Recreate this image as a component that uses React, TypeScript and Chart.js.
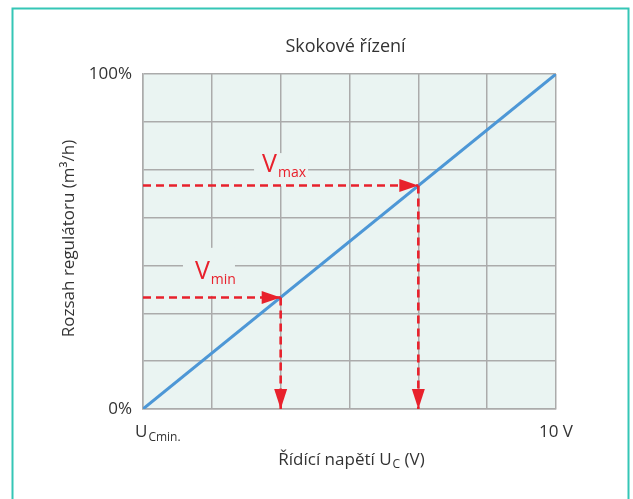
import React, { useEffect, useRef } from "react";
import { Chart, registerables } from "chart.js";

Chart.register(...registerables);

// ---- data ----
const chartTitle = "Skokové řízení";
const yAxisTitle = "Rozsah regulátoru (m³/h)";
const xAxisTitleMain = "Řídící napětí U";
const xAxisTitleSub = "C";
const xAxisTitleTail = " (V)";
const yTickLabels = ["0%", "100%"];
const yTickValues = [0, 7];
const xTickMain = ["U", "10 V"];
const xTickSub = ["Cmin.", ""];
const xTickValues = [0, 6];
// characteristic line (grid units: 6 columns x 7 rows)
const lineX = [0, 6];
const lineY = [0, 7];
// operating points
const markerNames = ["min", "max"];
const markerX = [2, 4];
const markerY = [2.33, 4.67];

// ---- styles / placement ----
const FONT = "'Open Sans', 'Noto Sans', sans-serif";
const TEXT = "#333333";
const RED = "#e8212c";
const BLUE = "#4d97d6";
const GRID = "#ababab";
const PLOT_BG = "#eaf4f2";
const FRAME = "#35c6b6";
const labelAnchors = [
  { x: 0.755, y: 2.72, gap: [-12, -31, 52, 48] },
  { x: 1.73, y: 4.95, gap: [-8, -19, 54, 33] },
];

function drawSub(
  ctx: CanvasRenderingContext2D,
  x: number,
  y: number,
  main: string,
  sub: string,
  tail: string,
  mainFont: string,
  subFont: string,
  subDy: number,
  align: "left" | "center"
) {
  ctx.font = mainFont;
  const wm = ctx.measureText(main).width;
  const wt = tail ? ctx.measureText(tail).width : 0;
  ctx.font = subFont;
  const ws = sub ? ctx.measureText(sub).width + 1 : 0;
  const total = wm + ws + wt;
  let sx = align === "center" ? x - total / 2 : x;
  ctx.textAlign = "left";
  ctx.textBaseline = "alphabetic";
  ctx.font = mainFont;
  ctx.fillText(main, sx, y);
  sx += wm;
  if (sub) {
    ctx.font = subFont;
    ctx.fillText(sub, sx + 1, y + subDy);
    sx += ws;
  }
  if (tail) {
    ctx.font = mainFont;
    ctx.fillText(tail, sx, y);
  }
}

const overlay = {
  id: "overlay",
  beforeDraw(chart: any) {
    const { ctx, chartArea } = chart;
    const { left, top, right, bottom } = chartArea;
    ctx.save();
    ctx.fillStyle = "#ffffff";
    ctx.fillRect(0, 0, chart.width, chart.height);
    ctx.strokeStyle = FRAME;
    ctx.lineWidth = 2;
    ctx.strokeRect(12.5, 8.5, 616, 600);
    ctx.fillStyle = PLOT_BG;
    ctx.fillRect(left, top, right - left, bottom - top);
    ctx.restore();
  },
  beforeDatasetsDraw(chart: any) {
    const { ctx, scales } = chart;
    ctx.save();
    ctx.fillStyle = PLOT_BG;
    labelAnchors.forEach((a) => {
      const px = scales.x.getPixelForValue(a.x);
      const py = scales.y.getPixelForValue(a.y);
      ctx.fillRect(px + a.gap[0], py + a.gap[1], a.gap[2], a.gap[3]);
    });
    ctx.restore();
  },
  afterDraw(chart: any) {
    const { ctx, scales, chartArea } = chart;
    const xs = scales.x;
    const ys = scales.y;
    ctx.save();
    // arrows
    ctx.fillStyle = RED;
    markerX.forEach((mx, i) => {
      const px = xs.getPixelForValue(mx);
      const py = ys.getPixelForValue(markerY[i]);
      const by = ys.getPixelForValue(0);
      ctx.beginPath();
      ctx.moveTo(px, py);
      ctx.lineTo(px - 19, py - 6.5);
      ctx.lineTo(px - 19, py + 6.5);
      ctx.closePath();
      ctx.fill();
      ctx.beginPath();
      ctx.moveTo(px, by);
      ctx.lineTo(px - 6.5, by - 20);
      ctx.lineTo(px + 6.5, by - 20);
      ctx.closePath();
      ctx.fill();
    });
    // V labels
    markerNames.forEach((n, i) => {
      const a = labelAnchors[i];
      const px = xs.getPixelForValue(a.x);
      const py = ys.getPixelForValue(a.y);
      drawSub(ctx, px, py, "V", n, "", `25px ${FONT}`, `14px ${FONT}`, 5, "left");
    });
    ctx.fillStyle = TEXT;
    // title
    ctx.font = `18px ${FONT}`;
    ctx.textAlign = "center";
    ctx.textBaseline = "alphabetic";
    ctx.fillText(chartTitle, (chartArea.left + chartArea.right) / 2 - 4, 52);
    // y ticks
    ctx.font = `17px ${FONT}`;
    ctx.textAlign = "right";
    ctx.textBaseline = "middle";
    yTickLabels.forEach((t, i) => {
      ctx.fillText(t, chartArea.left - 11, ys.getPixelForValue(yTickValues[i]));
    });
    // x ticks
    xTickMain.forEach((t, i) => {
      const px = xs.getPixelForValue(xTickValues[i]);
      if (xTickSub[i]) {
        drawSub(ctx, px - 8, 437, t, xTickSub[i], "", `17px ${FONT}`, `12px ${FONT}`, 4, "left");
      } else {
        ctx.font = `17px ${FONT}`;
        ctx.textAlign = "center";
        ctx.textBaseline = "alphabetic";
        ctx.fillText(t, px, 437);
      }
    });
    // x title
    drawSub(ctx, (chartArea.left + chartArea.right) / 2 + 2, 465, xAxisTitleMain, xAxisTitleSub, xAxisTitleTail, `17px ${FONT}`, `12px ${FONT}`, 3, "center");
    // y title
    ctx.translate(74, (chartArea.top + chartArea.bottom) / 2 - 3);
    ctx.rotate(-Math.PI / 2);
    ctx.font = `17px ${FONT}`;
    ctx.textAlign = "center";
    ctx.textBaseline = "alphabetic";
    ctx.fillText(yAxisTitle, 0, 0);
    ctx.restore();
  },
};

export default function App() {
  const ref = useRef<HTMLCanvasElement | null>(null);
  useEffect(() => {
    if (!ref.current) return;
    const pts = (xa: number[], ya: number[]) => xa.map((x, i) => ({ x, y: ya[i] }));
    const dashed = (data: { x: number; y: number }[]) => ({
      data,
      borderColor: RED,
      borderWidth: 2.6,
      borderDash: [8, 5],
      pointRadius: 0,
      showLine: true,
      fill: false,
      order: 1,
    });
    const datasets: any[] = [
      {
        data: pts(lineX, lineY),
        borderColor: BLUE,
        borderWidth: 3,
        pointRadius: 0,
        showLine: true,
        fill: false,
        order: 2,
      },
    ];
    markerX.forEach((mx, i) => {
      datasets.push(dashed([{ x: 0, y: markerY[i] }, { x: mx, y: markerY[i] }]));
      datasets.push(dashed([{ x: mx, y: markerY[i] }, { x: mx, y: 0 }]));
    });
    const chart = new Chart(ref.current, {
      type: "scatter",
      data: { datasets },
      options: {
        responsive: false,
        animation: false,
        layout: { padding: { left: 143, right: 77, top: 74, bottom: 90 } },
        plugins: {
          legend: { display: false },
          tooltip: { enabled: false },
          title: { display: false },
        },
        scales: {
          x: {
            type: "linear",
            min: 0,
            max: 6,
            ticks: { display: false, stepSize: 1 },
            grid: { color: GRID, lineWidth: 1.5, drawTicks: false },
            border: { display: true, color: GRID, width: 1.5 },
          },
          y: {
            type: "linear",
            min: 0,
            max: 7,
            ticks: { display: false, stepSize: 1 },
            grid: { color: GRID, lineWidth: 1.5, drawTicks: false },
            border: { display: true, color: GRID, width: 1.5 },
          },
        },
      },
      plugins: [overlay],
    } as any);
    return () => chart.destroy();
  }, []);
  return (
    <div style={{ position: "absolute", left: 0, top: 0, width: 633, height: 499 }}>
      <canvas ref={ref} width={633} height={499} style={{ display: "block" }} />
    </div>
  );
}
